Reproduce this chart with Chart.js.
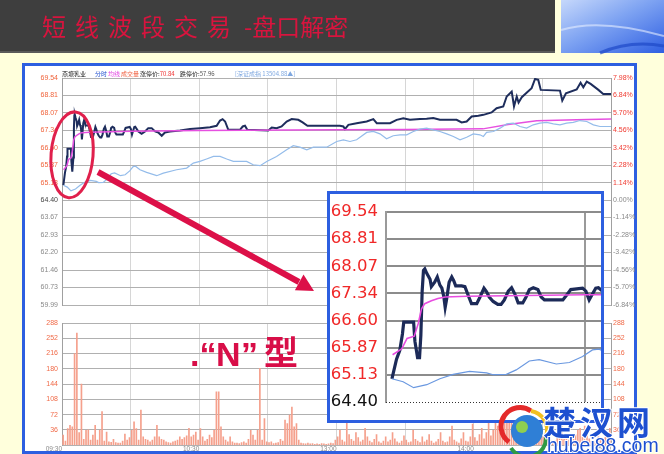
<!DOCTYPE html>
<html><head><meta charset="utf-8">
<script src="https://cdn.jsdelivr.net/npm/chart.js@4.4.1/dist/chart.umd.min.js"></script>
<style>
html,body{margin:0;padding:0}
body{width:664px;height:454px;position:relative;overflow:hidden;background:#ffffdc}
#frame{position:absolute;left:22px;top:63px;width:615px;height:391px;background:#fff;box-sizing:border-box;border:3px solid #2d5fe0;z-index:1}
canvas.full{position:absolute;left:0;top:0}
#inset{position:absolute;left:327px;top:191px;width:277px;height:232px;box-sizing:border-box;border:3px solid #2d5fe0;background:#fff;z-index:4}
#ic{position:absolute;left:0;top:0}
#ov{position:absolute;left:0;top:0;z-index:10}
</style></head><body>
<div id="frame"></div>
<canvas id="vc" class="full" width="664" height="454" style="z-index:2"></canvas>
<canvas id="pc" class="full" width="664" height="454" style="z-index:3"></canvas>
<div id="inset"><canvas id="ic" width="271" height="226"></canvas></div>
<svg id="ov" width="664" height="454" xmlns="http://www.w3.org/2000/svg">
  <defs>
    <linearGradient id="bg" x1="0" y1="0" x2="1" y2="1">
      <stop offset="0" stop-color="#c6d8fb"/>
      <stop offset="0.45" stop-color="#7ea3f2"/>
      <stop offset="1" stop-color="#2f5fe2"/>
    </linearGradient>
  </defs>
  <rect x="0" y="0" width="555" height="53" fill="#3e3e3e"/>
  <rect x="0" y="51" width="555" height="2" fill="#5a5a5a"/>
  <rect x="561" y="0" width="103" height="53" fill="url(#bg)"/>
  <path d="M561 30 Q600 18 664 36" stroke="#e4ecff" stroke-width="2" fill="none" opacity="0.6"/>
  <path d="M600 53 Q630 40 664 46" stroke="#1e48c8" stroke-width="3" fill="none" opacity="0.7"/>
  <text x="42" y="36" font-family="Noto Sans CJK SC" font-size="24" fill="#d8143e" letter-spacing="9">短线波段交易</text>
  <text x="244" y="36" font-family="Noto Sans CJK SC" font-size="24" fill="#d8143e">-盘口解密</text>

  <g font-family="Noto Sans CJK SC" font-size="6">
    <text x="62" y="76" fill="#222">燕塘乳业</text>
    <text x="95" y="76" fill="#2050d0">分时</text>
    <text x="108" y="76" fill="#e040e0">均线</text>
    <text x="121" y="76" fill="#f06040">成交量</text>
    <text x="140" y="76" fill="#222">涨停价:<tspan fill="#f03030">70.84</tspan></text>
    <text x="180" y="76" fill="#222">跌停价:<tspan fill="#555">57.96</tspan></text>
    <text x="235" y="76" fill="#7fa8e0">[深证成指 13504.88▲]</text>
  </g>

  <line x1="98" y1="172" x2="299" y2="282" stroke="#dc1048" stroke-width="6"/>
  <polygon points="314,291 303.5,274.4 294.9,290.2" fill="#dc1048"/>

  <g font-weight="bold" font-size="34" fill="#d80e48" font-family="Liberation Sans, Noto Sans CJK SC">
    <text x="190" y="366">.“</text>
    <text x="216" y="366">N</text>
    <text x="241" y="366">”</text>
    <text x="264" y="365" font-family="Noto Sans CJK SC">型</text>
  </g>

  <g>
    <circle cx="527" cy="431" r="16" fill="#2f7fd6"/>
    <circle cx="522" cy="427" r="6" fill="#8fcf50"/>
    <path d="M509 442 A19 19 0 0 1 531 411" stroke="#e42a2a" stroke-width="5" fill="none"/>
    <path d="M531 411 A19 19 0 0 1 546 436" stroke="#f2c020" stroke-width="4" fill="none"/>
    <path d="M546 436 A19 19 0 0 1 511 448" stroke="#2f9a44" stroke-width="4" fill="none"/>
    <text x="543" y="435" font-size="33" font-weight="bold" fill="#1d50d0" stroke="#fff" stroke-width="2" paint-order="stroke" font-family="Noto Sans CJK SC" letter-spacing="4">楚汉网</text>
    <text x="547" y="452" font-size="19.5" fill="#1d50d0" stroke="#fff" stroke-width="2" paint-order="stroke" font-family="Liberation Sans">hubei88.com</text>
  </g>
</svg>
<script>
// ---------- DATA ----------
const priceTicks = [69.54, 68.81, 68.07, 67.34, 66.60, 65.87, 65.13, 64.40, 63.67, 62.93, 62.20, 61.46, 60.73, 59.99];
const pctLabels = ['7.98%', '6.84%', '5.70%', '4.56%', '3.42%', '2.28%', '1.14%', '0.00%', '-1.14%', '-2.28%', '-3.42%', '-4.56%', '-5.70%', '-6.84%'];
const volTicks = [0, 36, 72, 108, 144, 180, 216, 252, 288];
const gridMinutes = [0, 30, 60, 90, 120, 150, 180, 210, 240];
const timeTickMinutes = [0, 60, 120, 180, 240];
const timeTickLabels = ['09:30', '10:30', '13:00', '14:00', '15:00'];

const priceMin = [0.6,1.3,1.8,2.2,2.4,3.9,4.1,4.5,4.8,5.0,
5.2,5.4,5.6,5.9,6.4,6.6,7.1,7.5,7.9,8.2,
8.5,8.7,8.9,9.3,9.7,10.0,10.3,11.2,11.7,12.3,
12.7,13.5,14.0,14.6,15.0,15.4,16.0,16.7,17.2,17.7,
18.3,18.8,19.3,19.8,20.5,21.0,21.5,22.1,22.8,23.3,
23.8,26.6,27.3,27.8,29.6,30.1,30.6,31.1,31.6,32.0,
33.4,34.8,36.3,37.7,39.2,40.7,42.1,43.6,45.0,47.2,
51.6,56.0,60.3,64.7,67.6,69.1,70.2,71.3,72.7,77.8,
79.0,80.0,81.0,90.2,91.7,93.8,96.0,98.2,100.4,103.3,
105.2,107.3,121.5,123.0,123.7,125.2,128.8,133.2,136.1,137.6,
143.4,146.3,149.2,152.1,156.5,159.4,162.3,165.2,172.5,174.7,
176.9,179.1,182.0,184.2,187.8,190.0,192.9,194.4,196.6,197.6,
198.8,199.6,201.0,203.1,205.3,206.8,208.2,209.3,217.7,218.7,
220.3,225.0,226.7,227.9,229.4,231.1,234.5,236.6,240];
const priceVal = [65.03,65.56,65.80,66.24,66.56,66.56,66.04,65.60,65.60,66.20,
67.40,67.96,68.00,67.88,67.72,67.52,67.64,67.78,67.56,67.48,
67.24,66.96,67.16,67.64,67.78,67.68,67.54,67.54,67.52,67.24,
67.06,67.06,67.24,67.48,67.38,67.24,67.12,67.04,67.04,67.16,
67.40,67.49,67.32,67.08,67.08,67.24,67.44,67.49,67.44,67.24,
67.16,67.16,67.32,67.44,67.48,67.40,67.16,67.32,67.48,67.49,
67.29,67.19,67.29,67.43,67.43,67.29,67.25,67.11,67.25,67.29,
67.33,67.39,67.43,67.47,67.53,67.75,67.81,67.71,67.36,67.36,
67.50,67.53,67.36,67.33,67.46,67.43,67.50,67.71,67.81,67.78,
67.67,67.53,67.53,67.50,67.39,67.57,67.64,67.71,67.81,67.64,
67.64,67.78,67.85,67.78,67.81,67.83,67.86,67.78,67.78,67.67,
67.71,67.92,67.95,67.99,68.09,68.27,68.34,68.76,68.97,68.34,
68.76,68.51,68.73,68.92,69.11,69.50,69.46,69.04,69.01,68.59,
68.90,69.06,69.34,69.15,69.39,69.29,69.04,68.87,68.87];

const avgMin = [0.7,2.1,2.9,4.0,4.6,5.1,5.6,6.6,7.6,8.7,12,30,60,120,150,184,195,207.5,225,240];
const avgVal = [65.68,65.84,66.12,66.18,66.52,66.92,67.06,67.14,67.20,67.24,67.26,67.30,67.33,67.36,67.37,67.40,67.58,67.74,67.78,67.81];

const idxMin = [0.6,2.3,3.9,5.9,7.9,9.9,12.4,15.0,16.0,18.0,
19.5,21.5,23.0,25.6,27.6,29.6,31.1,32.1,34.1,37.0,
41.4,44.3,50.1,54.5,57.4,60.3,63.2,66.2,69.1,72.0,
74.9,80.7,83.6,86.6,89.5,93.8,98.2,101.1,104.0,107.0,
109.9,115.7,120.1,123.0,125.9,128.8,133.2,136.1,139.0,141.9,
144.8,147.8,150.7,153.6,156.5,159.4,162.3,165.2,168.2,171.1,
174.0,176.9,179.8,182.7,184.2,185.6,188.6,191.5,194.4,197.3,
200.2,203.1,206.0,208.9,211.9,214.8,217.7,220.6,223.5,226.4,
229.4,232.3,235.2,240];
const idxVal = [65.03,64.95,64.79,64.87,65.03,65.15,65.23,65.19,65.14,65.15,
65.27,65.51,65.55,65.43,65.47,65.63,65.81,65.83,65.68,65.57,
65.43,65.54,65.68,65.75,65.96,66.03,66.13,66.24,66.24,66.13,
66.03,66.03,65.89,65.85,66.03,66.24,66.52,66.69,66.63,66.52,
66.63,66.63,66.87,66.94,66.87,66.94,67.25,67.29,67.19,66.98,
67.11,67.15,67.15,67.29,67.39,67.43,67.36,67.29,67.19,67.08,
66.94,67.05,67.19,67.15,67.08,67.25,67.29,67.43,67.61,67.64,
67.50,67.43,67.57,67.64,67.67,67.61,67.57,67.64,67.67,67.75,
67.71,67.57,67.50,67.50];

// volume per minute (09:30 .. 15:00)
const volume = [24,10,39,47,43,216,264,30,144,14,
35,36,12,24,47,12,35,79,10,31,
8,7,14,6,5,5,10,26,12,18,
35,55,39,12,83,20,14,12,8,12,
20,47,20,14,12,8,6,5,8,10,
12,20,14,18,22,40,20,24,31,12,
39,20,10,14,24,18,35,126,126,43,
20,12,8,20,8,5,5,4,6,8,
5,14,35,24,12,35,181,12,63,8,
6,8,4,5,6,14,10,59,51,71,
90,43,51,12,5,4,3,5,3,4,
2,3,2,4,3,2,3,5,4,12,
20,35,12,8,60,25,14,10,30,18,
8,12,40,20,10,6,14,25,8,5,
10,20,8,12,30,15,8,5,10,22,
12,6,8,35,14,10,6,20,8,12,
25,10,5,8,14,30,10,6,8,20,
45,12,8,5,15,30,10,8,20,50,
18,10,25,40,15,30,60,22,35,70,
45,30,55,80,100,60,120,90,70,85,
40,60,75,50,90,110,140,80,40,30,
20,15,25,12,8,10,18,30,45,25,
20,12,8,15,25,35,40,20,45,30,
15,10,8,12,20,14,10,18,25,40];

// ---------- BUILD ----------
const zip = (xs, ys) => xs.slice(0, Math.min(xs.length, ys.length)).map((x, i) => ({x, y: ys[i]}));
const pricePts = zip(priceMin, priceVal);
const avgPts = zip(avgMin, avgVal);
const idxPts = zip(idxMin, idxVal);
const volPts = volume.map((v, i) => ({x: i + 0.5, y: v}));
const prevClose = priceTicks[7];

const setTicks = arr => s => { s.ticks = arr.map(v => ({value: v})); };
const base = {responsive: false, animation: false, devicePixelRatio: 1,
  plugins: {legend: {display: false}, tooltip: {enabled: false}}};
const smallFont = {family: 'Liberation Sans', size: 7};

const ellipsePlugin = {
  id: 'ellipse',
  afterDatasetsDraw(chart) {
    const {ctx, scales: {x, y}} = chart;
    const cx = x.getPixelForValue(4.4), cy = y.getPixelForValue(66.31);
    ctx.save();
    ctx.strokeStyle = '#e0204c'; ctx.lineWidth = 3;
    ctx.beginPath(); ctx.ellipse(cx, cy, 21, 43, 0.08, 0, Math.PI * 2); ctx.stroke();
    ctx.restore();
  }
};

new Chart(document.getElementById('pc'), {
  type: 'line',
  data: {datasets: [
    {data: idxPts, borderColor: '#94bcea', borderWidth: 1.2, pointRadius: 0},
    {data: avgPts, borderColor: '#e650e0', borderWidth: 1.5, pointRadius: 0},
    {data: pricePts, borderColor: '#1e2d5c', borderWidth: 2, pointRadius: 0}
  ]},
  options: {...base,
    layout: {padding: {left: 26, right: 25, top: 78, bottom: 149}},
    scales: {
      x: {type: 'linear', offset: false, min: 0, max: 240, afterBuildTicks: setTicks(gridMinutes),
          ticks: {display: false}, grid: {offset: false, color: '#d6d6d6', drawTicks: false}, border: {display: false}},
      y: {position: 'left', min: priceTicks[13], max: priceTicks[0], afterFit(s) { s.width = 36; },
          afterBuildTicks: setTicks(priceTicks),
          ticks: {autoSkip: false, font: smallFont, padding: 4,
            color: c => c.tick.value > prevClose + 0.01 ? '#f0643c' : (Math.abs(c.tick.value - prevClose) < 0.01 ? '#444' : '#8a8a8a'),
            callback: v => v.toFixed(2)},
          grid: {color: '#b0b0b0', drawTicks: false}, border: {color: '#a0a0a0'}},
      y2: {position: 'right', min: priceTicks[13], max: priceTicks[0], afterFit(s) { s.width = 28; },
          afterBuildTicks: setTicks(priceTicks),
          ticks: {autoSkip: false, font: smallFont, padding: 2,
            color: c => c.tick.value > prevClose + 0.01 ? '#f03a30' : '#8a8a8a',
            callback: (v, i) => pctLabels[i]},
          grid: {display: false, drawTicks: false}, border: {color: '#a0a0a0'}}
    }
  },
  plugins: [ellipsePlugin]
});

new Chart(document.getElementById('vc'), {
  type: 'bar',
  data: {datasets: [{data: volPts, backgroundColor: '#f5a08c', barThickness: 1, borderWidth: 0}]},
  options: {...base,
    layout: {padding: {left: 26, right: 25, top: 323, bottom: 1}},
    scales: {
      x: {type: 'linear', offset: false, min: 0, max: 240, afterBuildTicks: setTicks(gridMinutes),
          ticks: {autoSkip: false, maxRotation: 0, align: 'end', padding: 0, font: {family: 'Liberation Sans', size: 6.5}, color: '#8a8a8a',
            callback: v => { const k = timeTickMinutes.indexOf(v); return k < 0 ? '' : timeTickLabels[k]; }},
          grid: {offset: false, color: '#d6d6d6', drawTicks: false}, border: {display: false}},
      y: {position: 'left', min: 0, max: 288, afterFit(s) { s.width = 36; }, afterBuildTicks: setTicks(volTicks),
          ticks: {autoSkip: false, font: smallFont, padding: 4, color: '#f06a48', callback: v => v === 0 ? '' : v},
          grid: {color: '#b0b0b0', drawTicks: false}, border: {color: '#a0a0a0'}},
      y2: {position: 'right', min: 0, max: 288, afterFit(s) { s.width = 28; }, afterBuildTicks: setTicks(volTicks),
          ticks: {autoSkip: false, font: smallFont, padding: 2, color: '#f06a48', callback: v => v === 0 ? '' : v},
          grid: {display: false, drawTicks: false}, border: {color: '#a0a0a0'}}
    }
  }
});

const insetTicks = priceTicks.slice(0, 8);
const dottedBase = {
  id: 'dottedBase',
  afterDraw(chart) {
    const {ctx, chartArea: a, scales: {y}} = chart;
    const py = Math.round(y.getPixelForValue(prevClose)) + 0.5;
    ctx.save(); ctx.strokeStyle = '#333'; ctx.lineWidth = 1; ctx.setLineDash([1, 2]);
    ctx.beginPath(); ctx.moveTo(a.left, py); ctx.lineTo(a.right, py); ctx.stroke(); ctx.restore();
  }
};
new Chart(document.getElementById('ic'), {
  type: 'line',
  data: {datasets: [
    {data: idxPts, borderColor: '#6a98e0', borderWidth: 1.2, pointRadius: 0},
    {data: avgPts, borderColor: '#e84ce0', borderWidth: 1.6, pointRadius: 0},
    {data: pricePts, borderColor: '#1c2a58', borderWidth: 3.2, pointRadius: 0}
  ]},
  options: {...base,
    layout: {padding: {left: 0, right: 0, top: 5, bottom: 7}},
    scales: {
      x: {type: 'linear', offset: false, min: -0.3, max: 32.4, afterBuildTicks: s => { s.ticks = [{value: 30}]; },
          ticks: {display: false}, grid: {color: '#9a9a9a', lineWidth: 2, drawTicks: false}, border: {display: false}},
      y: {min: insetTicks[7], max: insetTicks[0], afterFit(s) { s.width = 56; }, afterBuildTicks: setTicks(insetTicks),
          ticks: {autoSkip: false, padding: 8, font: {family: 'DejaVu Sans', size: 16.5},
            color: c => c.tick.value > prevClose + 0.01 ? '#f02828' : '#111', callback: v => v.toFixed(2)},
          grid: {color: c => (c.tick && Math.abs(c.tick.value - prevClose) < 0.01) ? 'rgba(0,0,0,0)' : '#8c8c8c', lineWidth: 2, drawTicks: false},
          border: {color: '#9a9a9a', width: 2}}
    }
  },
  plugins: [dottedBase]
});
</script>
</body></html>
